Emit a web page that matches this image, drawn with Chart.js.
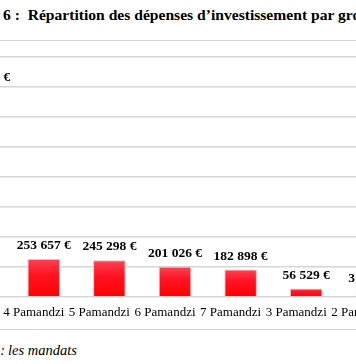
<!DOCTYPE html>
<html><head><meta charset="utf-8">
<script src="https://cdn.jsdelivr.net/npm/chart.js@4"></script>
<style>
html,body{margin:0;padding:0;background:#fff;}
body{width:356px;height:364px;overflow:hidden;position:relative;font-family:"Liberation Serif","Times New Roman",serif;color:#000;}
#title{position:absolute;left:3px;top:6px;white-space:nowrap;font-weight:bold;font-size:15.6px;}
#frame{position:absolute;left:0;width:356px;top:40px;height:288px;border-top:1px solid #d4d4d4;border-bottom:1px solid #d4d4d4;}
#wrap{position:absolute;left:-60px;top:47px;width:470px;height:290px;}
#srcA{position:absolute;right:351px;top:342px;white-space:nowrap;font-style:italic;font-size:14.5px;}
#srcB{position:absolute;left:8px;top:342px;white-space:nowrap;font-style:italic;font-size:14.5px;}
</style>
</head><body>
<div id="title">6 :&nbsp; Répartition des dépenses d’investissement par groupe scolaire</div>
<div id="frame"></div>
<div id="wrap"><canvas id="c" width="470" height="290"></canvas></div>
<div id="srcA">Source :</div>
<div id="srcB">les mandats</div>
<script>
const categories = ["1 Pamandzi", "4 Pamandzi", "5 Pamandzi", "6 Pamandzi", "7 Pamandzi", "3 Pamandzi", "2 Pamandzi"];
const values = [1370000, 253657, 245298, 201026, 182898, 56529, 31500];
const yTicksStep = 200000;
const yMax = 1600000;

function fmt(v){
  return String(Math.round(v)).replace(/\B(?=(\d{3})+(?!\d))/g, " ") + " €";
}

const labelPlugin = {
  id: 'valueLabels',
  afterDatasetsDraw(chart){
    const ctx = chart.ctx;
    const meta = chart.getDatasetMeta(0);
    ctx.save();
    ctx.font = 'bold 13.5px "Liberation Serif"';
    ctx.fillStyle = '#000';
    ctx.textAlign = 'center';
    ctx.textBaseline = 'middle';
    meta.data.forEach((bar, i) => {
      ctx.fillText(fmt(values[i]), bar.x, bar.y - 13.5);
    });
    ctx.restore();
  }
};

function barFill(c){
  const chart = c.chart;
  const ys = chart.scales.y;
  if (!ys || c.raw === undefined) return '#ff0000';
  const top = ys.getPixelForValue(c.raw);
  const base = ys.getPixelForValue(0);
  if (!isFinite(top) || !isFinite(base) || base - top < 1) return '#ff1a2a';
  const g = chart.ctx.createLinearGradient(0, top, 0, base);
  g.addColorStop(0, '#ff4454');
  g.addColorStop(0.4, '#ff1424');
  g.addColorStop(1, '#ff0000');
  return g;
}

Chart.defaults.font.family = '"Liberation Serif", serif';
new Chart(document.getElementById('c'), {
  type: 'bar',
  data: {
    labels: categories,
    datasets: [{
      data: values,
      backgroundColor: barFill,
      borderColor: '#ffb4b4',
      borderWidth: 1,
      barPercentage: 0.62,
      categoryPercentage: 0.8
    }]
  },
  options: {
    responsive: false,
    animation: false,
    layout: { padding: { top: 10, bottom: 8.4, left: 0, right: 0 } },
    plugins: { legend: { display: false }, tooltip: { enabled: false } },
    scales: {
      x: {
        offset: true,
        grid: { display: false, drawTicks: false },
        border: { display: false },
        ticks: { color: '#000', font: { size: 13 }, padding: 8, labelOffset: -10, autoSkip: false, maxRotation: 0, minRotation: 0 }
      },
      y: {
        min: 0, max: yMax,
        afterFit(s){ s.width = 0; },
        ticks: { display: false, stepSize: yTicksStep },
        grid: { color: '#d6d6d6', lineWidth: 1.5, drawTicks: false },
        border: { display: false }
      }
    }
  },
  plugins: [labelPlugin]
});
</script>
</body></html>
